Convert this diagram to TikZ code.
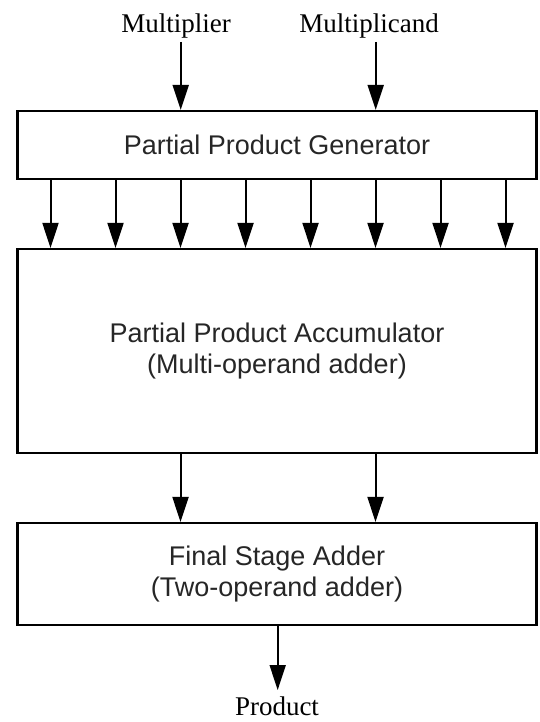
\documentclass[tikz,border=0pt]{standalone}
\usepackage{fontspec}
\setmainfont{Liberation Serif}
\newfontfamily\arialfont{Liberation Sans}
\usetikzlibrary{arrows.meta}
\begin{document}
\begin{tikzpicture}[x=1pt,y=-1pt,
  blk/.style={draw=black, line width=2.2pt, rectangle, minimum width=519pt, inner sep=0pt,
    font=\arialfont\fontsize{27}{31}\selectfont, align=center, text=black!85},
  lbl/.style={font=\fontsize{27}{31}\selectfont, inner sep=0pt, anchor=base},
  arr/.style={line width=2pt, -{Triangle[width=16pt,length=25pt]}}]
\useasboundingbox (0,0) rectangle (539,722);
% blocks
\node[blk, minimum height=68pt] (ppg) at (277,145) {Partial Product Generator};
\node[blk, minimum height=204pt] (ppa) at (277,351) {Partial Product Accumulator\\(Multi-operand adder)};
\node[blk, minimum height=102pt] (fsa) at (277,574) {Final Stage Adder\\(Two-operand adder)};
% labels
\node[lbl] (mul) at (176,33) {Multiplier};
\node[lbl] (mcd) at (369,33) {Multiplicand};
\node[lbl] (prod) at (277,715) {Product};
% input arrows
\coordinate (m1) at (180.7,42);
\coordinate (m2) at (375.7,42);
\draw[arr] (m1) -- (m1 |- ppg.north);
\draw[arr] (m2) -- (m2 |- ppg.north);
% partial product arrows
\foreach \i/\x in {1/50.5,2/115.5,3/180.5,4/245.5,5/310.5,6/375.5,7/440.5,8/505.5}{
  \coordinate (c\i) at (\x,0);
  \draw[arr] (ppg.south -| c\i) -- (ppa.north -| c\i);
}
% accumulator to final adder
\coordinate (d1) at (180.5,0);
\coordinate (d2) at (375.5,0);
\draw[arr] (ppa.south -| d1) -- (fsa.north -| d1);
\draw[arr] (ppa.south -| d2) -- (fsa.north -| d2);
% product
\coordinate (pe) at (277.7,690);
\draw[arr] (fsa.south -| pe) -- (pe);
\end{tikzpicture}
\end{document}
